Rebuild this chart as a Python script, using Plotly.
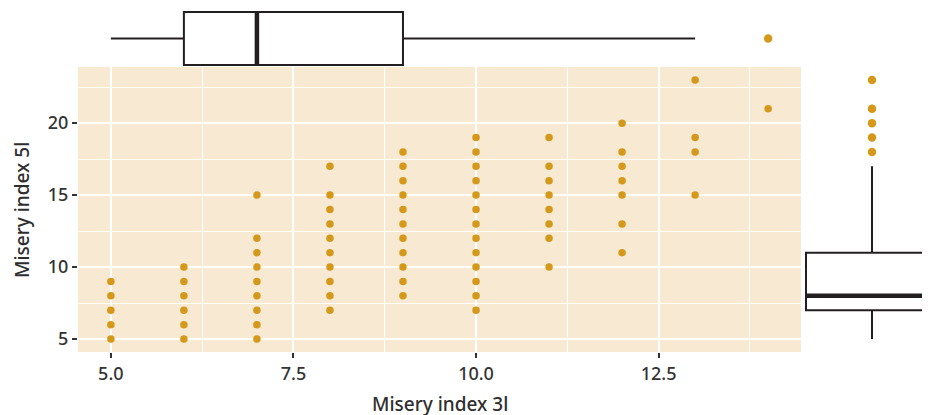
import plotly.graph_objects as go

# ---- data ----
misery3 = ([5]*5 + [6]*6 + [7]*9 + [8]*10 + [9]*11 + [10]*13 + [11]*8 + [12]*7 + [13]*4 + [14])
misery5 = ([5, 6, 7, 8, 9] +
           [5, 6, 7, 8, 9, 10] +
           [5, 6, 7, 8, 9, 10, 11, 12, 15] +
           [7, 8, 9, 10, 11, 12, 13, 14, 15, 17] +
           [8, 9, 10, 11, 12, 13, 14, 15, 16, 17, 18] +
           [7, 8, 9, 10, 11, 12, 13, 14, 15, 16, 17, 18, 19] +
           [10, 12, 13, 14, 15, 16, 17, 19] +
           [11, 13, 15, 16, 17, 18, 20] +
           [15, 18, 19, 23] +
           [21])

# marginal boxplot statistics
x_box_stats = dict(q1=6, median=7, q3=9, lowerfence=5, upperfence=13)
x_box_outliers = [14]
y_box_stats = dict(q1=7, median=8, q3=11, lowerfence=5, upperfence=17)
y_box_outliers = [18, 19, 20, 21, 23]

x_title = "Misery index 3l"
y_title = "Misery index 5l"

# ---- style ----
W, H = 930, 415
OFF = 8  # page body margin; layout below is in page pixels
PT = "#D4991A"
BG = "#F7E9D2"
INK = "#231F20"
FONT = "Noto Sans"

L, R, T, B = 78 - OFF, 801 - OFF, 67 - OFF, 352 - OFF  # main panel pixel edges (figure coords)
xdom = [L / W, R / W]
ydom = [(H - B) / H, (H - T) / H]

top_center = 38.5 - OFF
right_center = 872 - OFF

fig = go.Figure()

# main scatter
fig.add_trace(go.Scatter(x=misery3, y=misery5, mode="markers",
                         marker=dict(color=PT, size=7.5, line=dict(width=0)),
                         xaxis="x", yaxis="y", hoverinfo="skip", showlegend=False))

# top marginal box (horizontal)
top_half = 26.5
fig.add_trace(go.Box(orientation="h", y=[0], q1=[x_box_stats["q1"]], median=[x_box_stats["median"]],
                     q3=[x_box_stats["q3"]], lowerfence=[x_box_stats["lowerfence"]],
                     upperfence=[x_box_stats["upperfence"]], width=2 * top_half, whiskerwidth=0,
                     fillcolor="white", line=dict(color=INK, width=2), boxpoints=False,
                     xaxis="x2", yaxis="y2", showlegend=False, hoverinfo="skip"))
fig.add_trace(go.Scatter(x=[x_box_stats["median"]] * 2, y=[-top_half, top_half], mode="lines",
                         line=dict(color=INK, width=4.5), xaxis="x2", yaxis="y2",
                         showlegend=False, hoverinfo="skip"))
fig.add_trace(go.Scatter(x=x_box_outliers, y=[0] * len(x_box_outliers), mode="markers",
                         marker=dict(color=PT, size=8.5), xaxis="x2", yaxis="y2",
                         showlegend=False, hoverinfo="skip"))

# right marginal box (vertical)
right_half = 66
fig.add_trace(go.Box(x=[0], q1=[y_box_stats["q1"]], median=[y_box_stats["median"]],
                     q3=[y_box_stats["q3"]], lowerfence=[y_box_stats["lowerfence"]],
                     upperfence=[y_box_stats["upperfence"]], width=2 * right_half, whiskerwidth=0,
                     fillcolor="white", line=dict(color=INK, width=2), boxpoints=False,
                     xaxis="x3", yaxis="y3", showlegend=False, hoverinfo="skip"))
fig.add_trace(go.Scatter(x=[-right_half, right_half], y=[y_box_stats["median"]] * 2, mode="lines",
                         line=dict(color=INK, width=4.5), xaxis="x3", yaxis="y3",
                         showlegend=False, hoverinfo="skip"))
fig.add_trace(go.Scatter(x=[0] * len(y_box_outliers), y=y_box_outliers, mode="markers",
                         marker=dict(color=PT, size=8.5), xaxis="x3", yaxis="y3",
                         showlegend=False, hoverinfo="skip"))

tickfont = dict(family=FONT, size=18, color="#333333", weight=500)
hidden = dict(showgrid=False, zeroline=False, showticklabels=False, ticks="", showline=False)

fig.update_layout(
    width=W, height=H, margin=dict(l=0, r=0, t=0, b=0),
    paper_bgcolor="white", plot_bgcolor="rgba(0,0,0,0)",
    font=dict(family=FONT),
    xaxis=dict(domain=xdom, anchor="y", range=[4.55, 14.45], tick0=5, dtick=2.5, tickformat=".1f",
               showgrid=True, gridcolor="white", gridwidth=2, zeroline=False,
               ticks="outside", ticklen=5, tickwidth=1.6, tickcolor="#333",
               minor=dict(dtick=1.25, tick0=5, showgrid=True, gridcolor="white", gridwidth=1),
               tickfont=tickfont),
    yaxis=dict(domain=ydom, anchor="x", range=[4.1, 23.9], tick0=5, dtick=5,
               showgrid=True, gridcolor="white", gridwidth=2, zeroline=False,
               ticks="outside", ticklen=5, tickwidth=1.6, tickcolor="#333",
               minor=dict(dtick=2.5, tick0=5, showgrid=True, gridcolor="white", gridwidth=1),
               tickfont=tickfont),
    xaxis2=dict(domain=xdom, anchor="y2", range=[4.55, 14.45], **hidden),
    yaxis2=dict(domain=[(H - T) / H, 1], anchor="x2", range=[-(T - top_center), top_center], **hidden),
    xaxis3=dict(domain=[R / W, 1], anchor="y3", range=[-(right_center - R), W - right_center], **hidden),
    yaxis3=dict(domain=ydom, anchor="x3", range=[4.1, 23.9], **hidden),
    shapes=[dict(type="rect", xref="x domain", yref="y domain", x0=0, x1=1, y0=0, y1=1,
                 fillcolor=BG, line=dict(width=0), layer="below")],
    annotations=[
        dict(text=x_title, xref="paper", yref="paper", x=(L + R) / 2 / W, y=(H - (404 - OFF)) / H,
             xanchor="center", yanchor="middle", showarrow=False,
             font=dict(family=FONT, size=19, color="#2e2e2e", weight=500)),
        dict(text=y_title, xref="paper", yref="paper", x=(22 - OFF) / W, y=(H - (210 - OFF)) / H,
             xanchor="center", yanchor="middle", showarrow=False, textangle=-90,
             font=dict(family=FONT, size=19, color="#2e2e2e", weight=500)),
    ],
)

fig.write_html("out.html")
